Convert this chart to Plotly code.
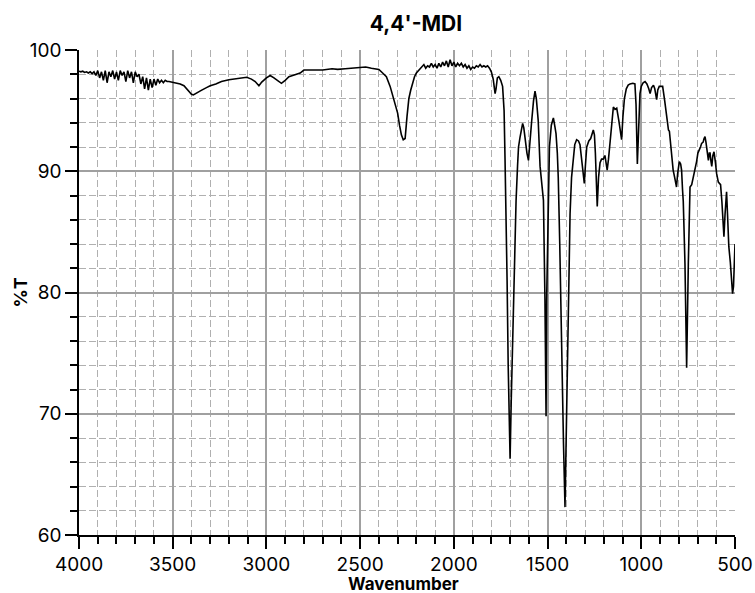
import plotly.graph_objects as go

wavenumber = [
    4000, 3990, 3980, 3970, 3960, 3950, 3940, 3930, 3920, 3910, 3900, 3890, 3880, 3870, 3860,
    3850, 3840, 3830, 3820, 3810, 3800, 3790, 3780, 3770, 3760, 3750, 3740, 3730, 3720, 3710,
    3700, 3690, 3680, 3670, 3660, 3650, 3640, 3630, 3620, 3610, 3600, 3590, 3580, 3570, 3560,
    3550, 3540, 3530, 3520, 3500, 3480, 3460, 3440, 3420, 3400, 3390, 3370, 3350, 3320, 3300,
    3270, 3240, 3200, 3170, 3140, 3105, 3080, 3060, 3040, 3025, 3000, 2980, 2960, 2940, 2920,
    2900, 2880, 2860, 2840, 2820, 2800, 2780, 2750, 2720, 2700, 2650, 2620, 2580, 2550, 2520,
    2500, 2470, 2440, 2420, 2400, 2380, 2360, 2340, 2320, 2300, 2290, 2280, 2270, 2260, 2250,
    2240, 2230, 2220, 2210, 2200, 2190, 2180, 2170, 2160, 2150, 2140, 2130, 2120, 2110, 2100,
    2090, 2080, 2070, 2060, 2050, 2040, 2030, 2020, 2010, 2000, 1990, 1980, 1970, 1960, 1950,
    1940, 1930, 1920, 1910, 1900, 1890, 1880, 1870, 1860, 1850, 1840, 1830, 1820, 1810, 1800,
    1790, 1780, 1775, 1768, 1760, 1750, 1740, 1732, 1727, 1722, 1716, 1710, 1705, 1700, 1694,
    1686, 1678, 1668, 1660, 1655, 1647, 1640, 1633, 1627, 1620, 1610, 1602, 1595, 1585, 1575,
    1567, 1560, 1550, 1540, 1530, 1522, 1514, 1508, 1505, 1500, 1496, 1490, 1480, 1469, 1460,
    1455, 1448, 1443, 1435, 1425, 1415, 1407, 1401, 1395, 1388, 1380, 1372, 1363, 1355, 1345,
    1335, 1327, 1318, 1309, 1304, 1298, 1291, 1280, 1270, 1256, 1250, 1245, 1240, 1235, 1228,
    1220, 1212, 1203, 1194, 1188, 1182, 1175, 1168, 1160, 1155, 1149, 1140, 1131, 1120, 1112,
    1105, 1098, 1090, 1080, 1070, 1060, 1045, 1034, 1028, 1021, 1015, 1007, 1000, 990, 980,
    970, 960, 953, 945, 935, 928, 922, 918, 912, 904, 895, 886, 875, 868, 861,
    855, 850, 845, 838, 830, 822, 812, 806, 797, 790, 785, 780, 776, 767, 758,
    749, 744, 740, 731, 722, 713, 705, 698, 690, 684, 678, 670, 665, 660, 655,
    648, 642, 637, 633, 628, 624, 618, 612, 605, 598, 589, 580, 577, 570, 565,
    559, 553, 549, 545, 540, 533, 525, 520, 513, 508, 503, 500,
]

transmittance = [
    98.25, 98.2, 98.25, 98.15, 98.2, 98.1, 98.2, 98.05, 98.2, 97.9, 98.3, 97.7, 98.2, 97.5, 98.3,
    97.3, 98.2, 97.8, 98.3, 97.6, 98.2, 97.5, 98.3, 97.9, 98.2, 97.4, 98.3, 97.7, 98.2, 97.3,
    98.2, 97.8, 98.0, 97.2, 97.8, 96.8, 97.7, 96.7, 97.6, 96.9, 97.6, 97.1, 97.6, 97.3, 97.5,
    97.3, 97.5, 97.4, 97.4, 97.35, 97.3, 97.2, 97.05, 96.7, 96.35, 96.3, 96.45, 96.65, 96.9, 97.05,
    97.2, 97.4, 97.55, 97.6, 97.7, 97.75, 97.6, 97.4, 97.05, 97.35, 97.7, 97.9, 97.7, 97.5, 97.25,
    97.5, 97.8, 97.9, 98.0, 98.1, 98.35, 98.35, 98.4, 98.4, 98.35, 98.45, 98.4, 98.45, 98.5, 98.55,
    98.6, 98.6, 98.5, 98.45, 98.4, 98.1, 97.8, 97.0, 96.0, 94.8, 93.8, 93.0, 92.6, 92.7, 94.5,
    96.0, 96.7, 97.3, 97.8, 98.1, 98.3, 98.5, 98.6, 98.8, 98.5, 98.7, 98.6, 98.9, 98.6, 98.8,
    98.5, 98.9, 98.6, 99.0, 98.7, 99.1, 98.6, 99.2, 98.7, 99.0, 98.6, 98.9, 98.7, 98.9, 98.6,
    98.8, 98.5, 98.7, 98.4, 98.6, 98.5, 98.7, 98.6, 98.8, 98.6, 98.7, 98.6, 98.7, 98.5, 98.2,
    97.6, 96.4, 96.8, 97.7, 97.8, 97.5, 97.0, 95.0, 91.0, 87.6, 81.0, 73.9, 69.0, 66.3, 71.0,
    76.9, 82.0, 87.6, 90.5, 92.0, 92.8, 93.5, 93.95, 93.6, 92.6, 91.5, 90.9, 92.0, 94.1, 95.8,
    96.6, 96.0, 94.2, 90.4, 88.5, 87.6, 79.4, 69.8, 79.4, 84.5, 87.6, 92.0, 93.8, 94.4, 93.6,
    93.1, 91.5, 89.5, 84.0, 73.9, 67.5, 62.3, 67.5, 73.9, 81.5, 86.5, 89.5, 91.2, 92.2, 92.6,
    92.5, 92.2, 91.0, 89.8, 89.0, 90.5, 92.0, 92.5, 92.7, 93.4, 93.0, 91.5, 89.0, 87.1, 89.5,
    90.7, 91.0, 91.0, 91.3, 90.6, 90.1, 91.0, 92.2, 93.8, 94.2, 95.3, 95.1, 95.2, 94.2, 93.2,
    92.6, 94.5, 96.0, 96.8, 97.1, 97.2, 97.25, 97.2, 95.5, 90.6, 94.0, 96.4, 97.0, 97.3, 97.4,
    97.2, 96.8, 96.4, 96.9, 97.1, 96.8, 96.0, 95.9, 96.7, 97.0, 97.0, 97.0, 95.8, 95.0, 94.2,
    93.4, 93.3, 92.3, 91.0, 90.1, 89.5, 88.7, 89.8, 90.8, 90.6, 90.1, 88.5, 87.5, 82.4, 73.8,
    82.4, 88.2, 88.7, 88.9, 89.5, 90.1, 90.8, 91.5, 91.75, 92.0, 92.3, 92.4, 92.7, 92.85, 92.4,
    91.7, 90.9, 91.5, 91.5, 90.8, 90.4, 91.3, 91.6, 90.8, 89.8, 89.1, 88.9, 88.9, 87.5, 86.0,
    84.6, 86.5, 88.1, 88.3, 86.5, 83.8, 82.5, 81.5, 79.9, 80.5, 82.5, 84.0,
]

x_ticks = [4000, 3500, 3000, 2500, 2000, 1500, 1000, 500]
y_ticks = [60, 70, 80, 90, 100]

FONT = "Inter"
W, H = 755, 593

fig = go.Figure()
fig.add_trace(go.Scatter(
    x=wavenumber, y=transmittance, mode="lines",
    line=dict(color="black", width=1.6), showlegend=False,
))

fig.update_layout(
    width=W, height=H,
    margin=dict(l=79, r=20, t=50, b=58, autoexpand=False),
    paper_bgcolor="white", plot_bgcolor="white",
    font=dict(family=FONT, color="black", size=19),
    title=dict(text="<b>4,4'-MDI</b>", x=416 / W, xanchor="center",
               y=1 - 24 / H, yanchor="middle", yref="container",
               font=dict(size=21, family=FONT, color="black")),
    annotations=[
        dict(text="<b>Wavenumber</b>", xref="paper", yref="paper", x=0.5, y=0,
             xshift=-4, yshift=-49, xanchor="center", yanchor="middle", showarrow=False,
             font=dict(size=17, family=FONT)),
        dict(text="<b>%T</b>", xref="paper", yref="paper", x=0, y=0.5,
             xshift=-59, xanchor="center", yanchor="middle", textangle=-90,
             showarrow=False, font=dict(size=18, family=FONT)),
    ],
)

fig.update_xaxes(
    range=[4000, 500], tickvals=x_ticks, ticktext=[str(v) for v in x_ticks],
    showline=True, linecolor="black", linewidth=1.5, mirror=False,
    ticks="outside", ticklen=12, tickwidth=1.5, tickcolor="black",
    showgrid=True, gridcolor="#a0a0a0", gridwidth=1.5, zeroline=False,
    automargin=False, ticklabelstandoff=-1,
    minor=dict(dtick=100, tick0=0, ticks="outside", ticklen=7, tickwidth=1.5,
               tickcolor="black", showgrid=True, gridcolor="#b0b0b0",
               gridwidth=1.3, griddash="7px,3px"),
    tickfont=dict(size=19, family=FONT),
)
fig.update_yaxes(
    range=[60, 100], tickvals=y_ticks,
    showline=True, linecolor="black", linewidth=1.5, mirror=False,
    ticks="outside", ticklen=12, tickwidth=1.5, tickcolor="black",
    showgrid=True, gridcolor="#a0a0a0", gridwidth=1.5, zeroline=False,
    automargin=False,
    minor=dict(dtick=2, tick0=0, ticks="outside", ticklen=7, tickwidth=1.5,
               tickcolor="black", showgrid=True, gridcolor="#b0b0b0",
               gridwidth=1.3, griddash="7px,3px"),
    tickfont=dict(size=19, family=FONT), ticklabelstandoff=0,
)

fig.write_html(
    "out.html",
    config={"displayModeBar": False},
    post_script="document.body.style.margin='0';document.body.style.overflow='hidden';",
)
